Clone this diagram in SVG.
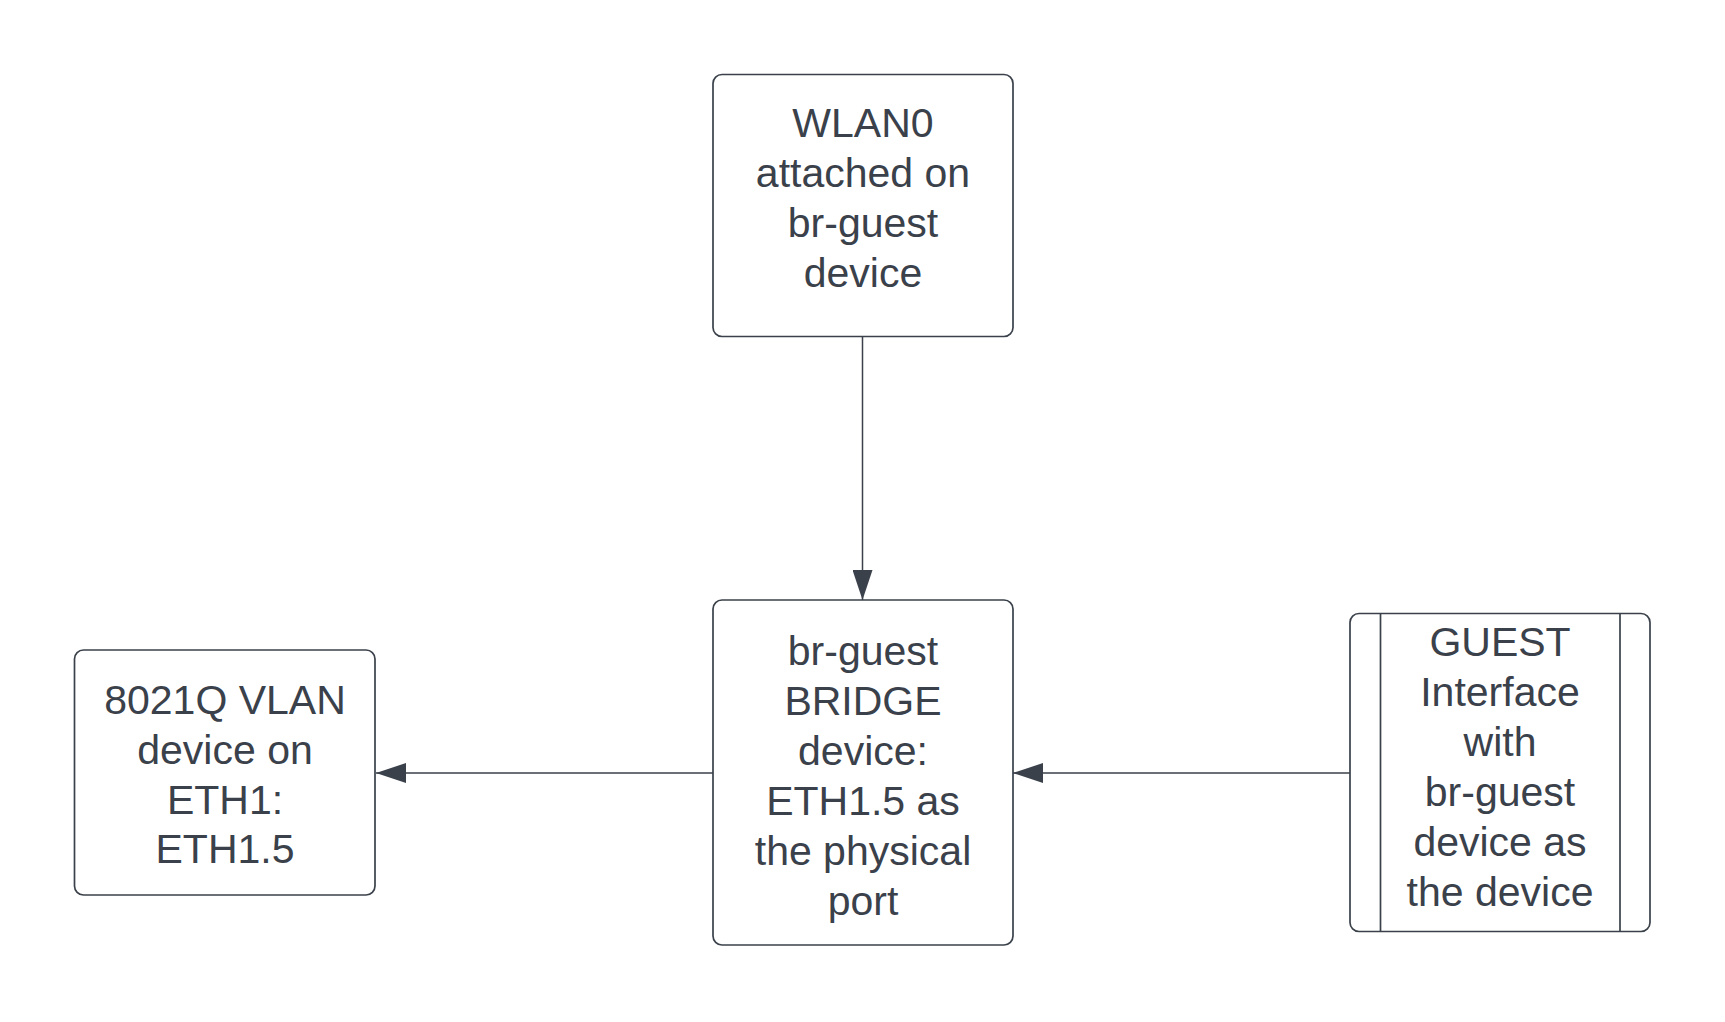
<svg xmlns="http://www.w3.org/2000/svg" width="1725" height="1022" viewBox="0 0 1725 1022">
<style>
.box{fill:#ffffff;stroke:#3a414a;stroke-width:1.7}
.edge{fill:none;stroke:#3a414a;stroke-width:1.5}
.t{font-family:"Liberation Sans",Arial,sans-serif;font-size:41px;fill:#3a414a;text-anchor:middle}
</style>
<defs>
<marker id="arr" viewBox="0 0 30 20" refX="30" refY="10" markerWidth="30" markerHeight="20" markerUnits="userSpaceOnUse" orient="auto">
<path d="M0,0 L30,10 L0,20 Z" fill="#3a414a"/>
</marker>
</defs>
<rect width="1725" height="1022" fill="#ffffff"/>
<g id="connectors">
<path class="edge" d="M862.5,337 L862.5,600" marker-end="url(#arr)"/>
<path class="edge" d="M713,773 L376,773" marker-end="url(#arr)"/>
<path class="edge" d="M1350,773 L1013,773" marker-end="url(#arr)"/>
</g>
<g id="wlan0">
<rect class="box" x="713" y="74.5" width="300" height="262" rx="9"/>
<text class="t"><tspan x="863" y="137">WLAN0</tspan><tspan x="863" y="187">attached on</tspan><tspan x="863" y="237">br-guest</tspan><tspan x="863" y="287">device</tspan></text>
</g>
<g id="bridge">
<rect class="box" x="713" y="600" width="300" height="345" rx="9"/>
<text class="t"><tspan x="863" y="665">br-guest</tspan><tspan x="863" y="715">BRIDGE</tspan><tspan x="863" y="765">device:</tspan><tspan x="863" y="815">ETH1.5 as</tspan><tspan x="863" y="865">the physical</tspan><tspan x="863" y="915">port</tspan></text>
</g>
<g id="vlan">
<rect class="box" x="74.5" y="650" width="300.5" height="245" rx="9"/>
<text class="t"><tspan x="225" y="714">8021Q VLAN</tspan><tspan x="225" y="764">device on</tspan><tspan x="225" y="814">ETH1:</tspan><tspan x="225" y="863">ETH1.5</tspan></text>
</g>
<g id="guest">
<rect class="box" x="1350" y="613.5" width="300" height="318" rx="9"/>
<line class="box" x1="1380.5" y1="613.5" x2="1380.5" y2="931.5"/>
<line class="box" x1="1620" y1="613.5" x2="1620" y2="931.5"/>
<text class="t"><tspan x="1500" y="656">GUEST</tspan><tspan x="1500" y="706">Interface</tspan><tspan x="1500" y="756">with</tspan><tspan x="1500" y="806">br-guest</tspan><tspan x="1500" y="856">device as</tspan><tspan x="1500" y="906">the device</tspan></text>
</g>
</svg>
